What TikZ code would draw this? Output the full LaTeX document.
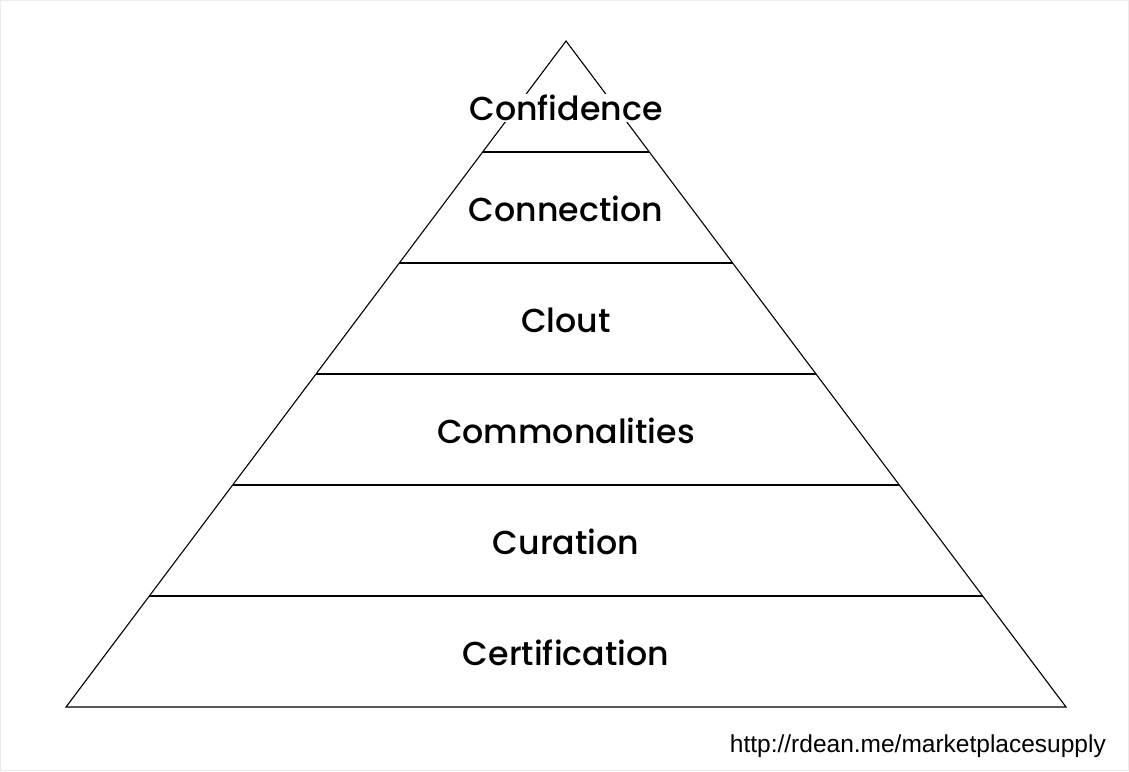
\documentclass[tikz,border=0pt]{standalone}
\usepackage{fontspec}
\setmainfont{Poppins}
\newfontfamily\lvlfont{Poppins Medium}
\newfontfamily\urlfont{Liberation Sans}
\begin{document}
\begin{tikzpicture}[x=1pt,y=-1pt,
  lvl/.style={font=\lvlfont\fontsize{33.2}{36}\selectfont, anchor=center, inner sep=0pt},
  edge/.style={line width=1.1pt, black}]
\useasboundingbox (0,0) rectangle (1129,771);
\draw[gray!15, line width=1pt] (0.5,0.5) rectangle (1128.5,770.5);
\coordinate (A) at (566,41);
\coordinate (BL) at (66,707);
\coordinate (BR) at (1066,707);
\draw[edge, line join=miter] (BL) -- (A) -- (BR) -- cycle;
\foreach \y in {152,263,374,485,596}{
  \pgfmathsetmacro{\dx}{0.750751*(\y-41)}
  \draw[edge] ({566-\dx},\y) -- ({566+\dx},\y);
}
\node[lvl, fill=white, inner xsep=2pt, inner ysep=1pt] (l1) at (566,108) {Confidence};
\node[lvl] (l2) at (566,209) {Connection};
\node[lvl] (l3) at (566,320) {Clout};
\node[lvl] (l4) at (566,431) {Commonalities};
\node[lvl] (l5) at (566,542) {Curation};
\node[lvl] (l6) at (566,653) {Certification};
\node[font=\urlfont\fontsize{24.5}{28}\selectfont, anchor=base east, inner sep=0pt] (url) at (1106,752) {http://rdean.me/marketplacesupply};
\end{tikzpicture}
\end{document}
